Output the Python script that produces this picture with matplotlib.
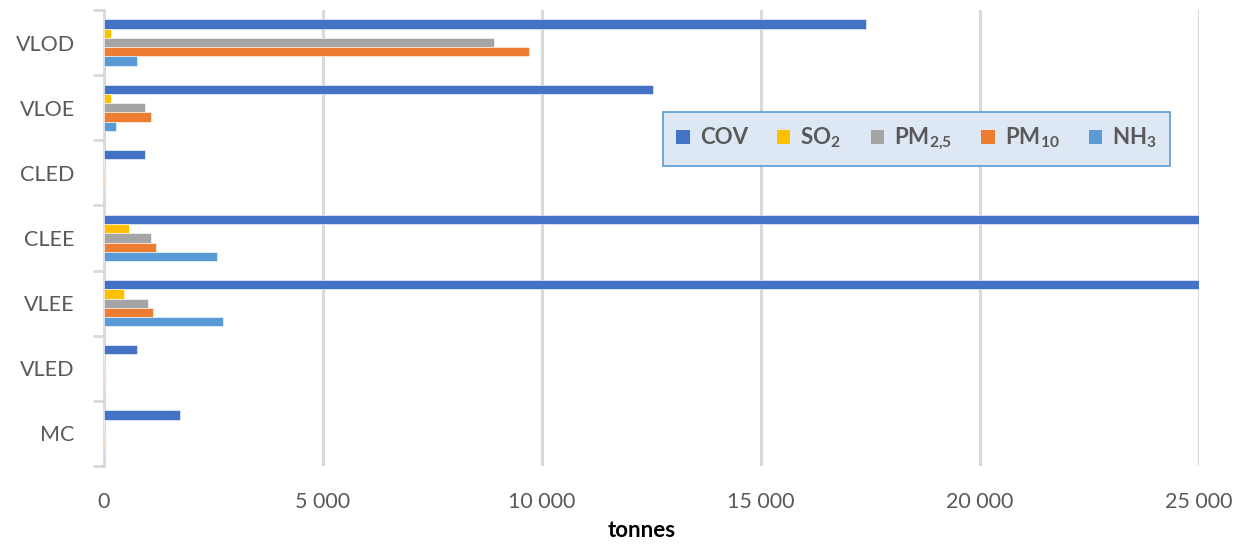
import matplotlib
matplotlib.use("Agg")
import matplotlib.pyplot as plt
import numpy as np
from matplotlib.ticker import FuncFormatter, FixedLocator
from matplotlib.patches import Patch

plt.rcParams["font.family"] = ["Lato", "DejaVu Sans"]
plt.rcParams["mathtext.fontset"] = "custom"
plt.rcParams["mathtext.rm"] = "Lato:bold"
plt.rcParams["mathtext.bf"] = "Lato:bold"
plt.rcParams["mathtext.it"] = "Lato:bold"
plt.rcParams["mathtext.default"] = "bf"

# Emissions per vehicle category (tonnes)
categories = ["VLOD", "VLOE", "CLED", "CLEE", "VLEE", "VLED", "MC"]
series_names = ["COV", "SO$_2$", "PM$_{2{,}5}$", "PM$_{10}$", "NH$_3$"]
cov = [17400, 12530, 940, 28000, 28000, 760, 1730]
so2 = [150, 150, 10, 580, 460, 10, 10]
pm25 = [8900, 940, 15, 1070, 1000, 15, 15]
pm10 = [9700, 1070, 20, 1190, 1130, 20, 20]
nh3 = [750, 270, 20, 2590, 2710, 20, 20]
x_ticks = [0, 5000, 10000, 15000, 20000, 25000]

series = [cov, so2, pm25, pm10, nh3]
colors = ["#4472C4", "#FFC000", "#A5A5A5", "#ED7D31", "#5B9BD5"]

fig = plt.figure(figsize=(12.47, 5.46), dpi=100)
ax = fig.add_axes([104 / 1247, 1 - 466 / 546, 1095 / 1247, 456 / 546])

y = np.arange(len(categories))
h = 0.142
offsets = (np.arange(len(series)) - 2) * h
for vals, off, col, name in zip(series, offsets, colors, series_names):
    ax.barh(y + off, vals, height=h, color=col, edgecolor="white",
            linewidth=0.4, label=name, zorder=3)

ax.set_xlim(0, 25000)
ax.set_ylim(len(categories) - 0.5, -0.5)

# vertical grid
ax.xaxis.set_major_locator(FixedLocator(x_ticks))
ax.grid(axis="x", color="#D9D9D9", linewidth=2.2, zorder=0)
ax.set_axisbelow(True)
ax.xaxis.set_major_formatter(FuncFormatter(lambda v, p: f"{int(v):,}".replace(",", " ")))
ax.tick_params(axis="x", length=0, pad=19, labelsize=15.5, labelcolor="#595959")

# category labels and separators
ax.set_yticks(y)
ax.set_yticklabels(categories)
ax.set_yticks(np.arange(len(categories) + 1) - 0.5, minor=True)
ax.tick_params(axis="y", which="major", length=0, pad=21, labelsize=15.5,
               labelcolor="#595959")
ax.tick_params(axis="y", which="minor", length=8, width=2, color="#D9D9D9")

for s in ["top", "right", "bottom"]:
    ax.spines[s].set_visible(False)
ax.spines["left"].set_color("#D9D9D9")
ax.spines["left"].set_linewidth(2)

ax.set_xlabel("tonnes", fontsize=16, fontweight="bold", color="black")
ax.xaxis.set_label_coords((642 - 104) / 1095, (466 - 520) / 456)

handles = [Patch(facecolor=c, edgecolor="none") for c in colors]
leg = ax.legend(handles, series_names, ncol=5, loc="upper left",
                bbox_to_anchor=(0.5105, 0.66, 0.463, 0.116), mode="expand",
                frameon=True, fancybox=False, fontsize=16,
                handlelength=0.6, handleheight=0.6, handletextpad=0.45,
                columnspacing=1.0, borderpad=0.6, borderaxespad=0)
leg.get_frame().set_facecolor("#DEE8F4")
leg.get_frame().set_edgecolor("#5B9BD5")
leg.get_frame().set_linewidth(1.2)
leg.get_frame().set_alpha(1)
for t in leg.get_texts():
    t.set_color("#595959")
    t.set_fontweight("bold")
leg.set_zorder(5)

fig.savefig("out.png", dpi=100)
